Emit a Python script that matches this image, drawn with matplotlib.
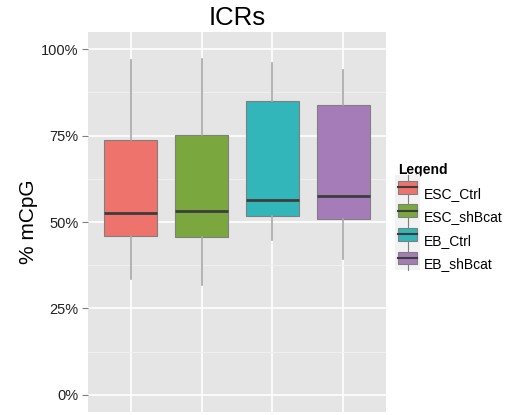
import matplotlib.pyplot as plt
from matplotlib.legend_handler import HandlerBase
from matplotlib.patches import Rectangle
from matplotlib.lines import Line2D
from matplotlib.ticker import FuncFormatter, MultipleLocator

plt.rcParams['font.family'] = ['Liberation Sans', 'DejaVu Sans']

# data (fractions of mCpG)
groups = ["ESC_Ctrl", "ESC_shBcat", "EB_Ctrl", "EB_shBcat"]
whislo = [0.336, 0.317, 0.448, 0.394]
q1 = [0.459, 0.458, 0.516, 0.509]
med = [0.527, 0.531, 0.563, 0.576]
q3 = [0.736, 0.751, 0.849, 0.839]
whishi = [0.970, 0.972, 0.959, 0.941]
colors = ["#EE736C", "#7AA83F", "#32B6B9", "#A57CB8"]

stats = []
for i, g in enumerate(groups):
    stats.append({"label": g, "whislo": whislo[i], "q1": q1[i], "med": med[i],
                  "q3": q3[i], "whishi": whishi[i], "fliers": []})

fig = plt.figure(figsize=(5.09, 4.15), dpi=100)
ax = fig.add_axes([0.1729, 0.0072, 0.5854, 0.9157])
ax.set_facecolor("#E5E5E5")

pos = list(range(1, len(groups) + 1))
bp = ax.bxp(stats, positions=pos, widths=0.75, patch_artist=True, showcaps=False,
            boxprops=dict(edgecolor="#7f7f7f", linewidth=0.8),
            whiskerprops=dict(color="#a6a6a6", linewidth=1.2),
            medianprops=dict(color="#3d3d3d", linewidth=2))
for patch, c in zip(bp["boxes"], colors):
    patch.set_facecolor(c)

ax.set_xlim(0.4, 4.6)
ax.set_ylim(-0.05, 1.05)
ax.yaxis.set_major_locator(MultipleLocator(0.25))
ax.yaxis.set_minor_locator(MultipleLocator(0.125))
ax.yaxis.set_major_formatter(FuncFormatter(lambda v, p: f"{v*100:.0f}%"))
ax.set_xticks(pos)
ax.set_xticklabels([])
ax.tick_params(axis="x", length=0)
ax.tick_params(axis="y", which="major", length=4, color="#7f7f7f", labelsize=10.5,
               labelcolor="#222222", pad=3)
ax.tick_params(axis="y", which="minor", length=0)
ax.grid(True, which="major", color="white", linewidth=1.2)
ax.grid(True, which="minor", axis="y", color="#F2F2F2", linewidth=0.6)
ax.set_axisbelow(True)
for s in ax.spines.values():
    s.set_visible(False)

ax.set_title("ICRs", fontsize=18.5, pad=5)
ax.set_ylabel("% mCpG", fontsize=15, labelpad=2)


class BoxKey(HandlerBase):
    def create_artists(self, legend, orig, xd, yd, w, h, fontsize, trans):
        bg = Rectangle((xd - 2, yd - 3), w + 4, h + 6, facecolor="#F2F2F2",
                       edgecolor="none", transform=trans)
        wl = Line2D([xd + w / 2, xd + w / 2], [yd - 3, yd + h + 3], color="#7f7f7f",
                    linewidth=0.8, transform=trans)
        box = Rectangle((xd, yd + h * 0.08), w, h * 0.84, facecolor=orig.get_facecolor(),
                        edgecolor="#7f7f7f", linewidth=0.8, transform=trans)
        md = Line2D([xd, xd + w], [yd + h / 2, yd + h / 2], color="#3d3d3d",
                    linewidth=1.5, transform=trans)
        return [bg, wl, box, md]


handles = [Rectangle((0, 0), 1, 1, facecolor=c) for c in colors]
leg = fig.legend(handles, groups, loc="upper left", bbox_to_anchor=(0.757, 0.637),
                 frameon=False, fontsize=10, title="Legend",
                 title_fontproperties={"weight": "bold", "size": 10},
                 handler_map={Rectangle: BoxKey()}, handlelength=1.4,
                 handleheight=1.3, handletextpad=0.5, labelspacing=0.6)
leg._legend_box.align = "left"
leg._legend_box.sep = 6

fig.savefig("out.png", dpi=100)
